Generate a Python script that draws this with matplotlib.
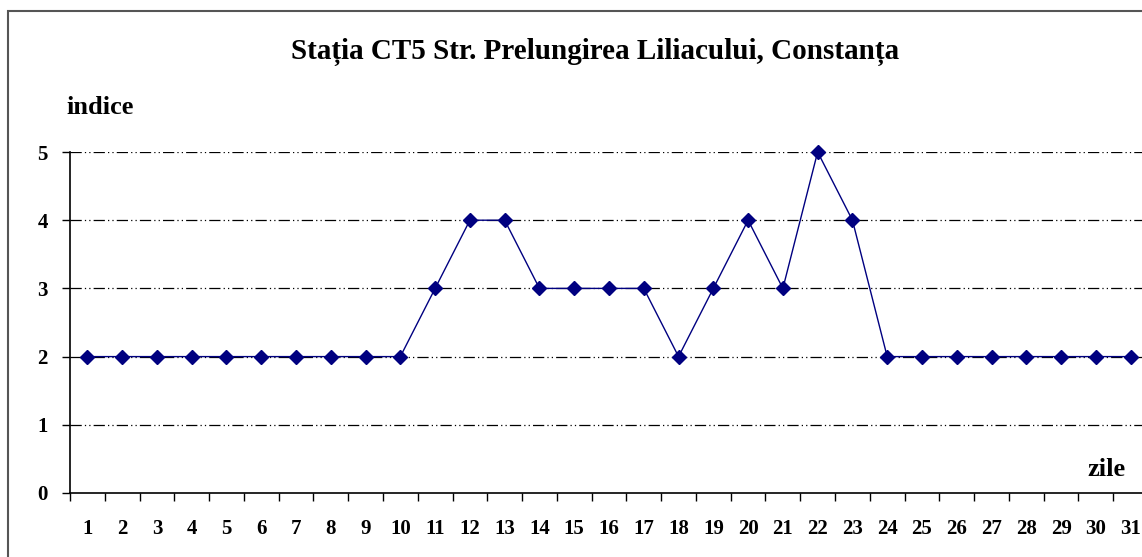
import matplotlib
matplotlib.use("Agg")
import matplotlib.pyplot as plt
from matplotlib.patches import Rectangle

days = list(range(1, 32))
indice = [2, 2, 2, 2, 2, 2, 2, 2, 2, 2, 3, 4, 4, 3, 3, 3, 3, 2, 3, 4, 3, 5, 4, 2, 2, 2, 2, 2, 2, 2, 2]
y_ticks = [0, 1, 2, 3, 4, 5]
title = "Stația CT5 Str. Prelungirea Liliacului, Constanța"

W, H = 1142, 557
fig = plt.figure(figsize=(W / 100, H / 100), dpi=100)
fig.patch.set_facecolor("white")
serif = ["Liberation Serif", "DejaVu Serif"]

# outer border
fig.patches.append(Rectangle((8 / W, -0.1), 1.2, (H - 11) / H + 0.1,
                             transform=fig.transFigure, fill=False,
                             edgecolor="#555555", linewidth=1.5))

ax_left = 70 / W
ax_width = (1148 - 70) / W
ax_bottom = (H - 493) / H
ax_height = (493 - 152) / H
ax = fig.add_axes([ax_left, ax_bottom, ax_width, ax_height])
ax.set_facecolor("none")

ax.plot(days, indice, color="#000080", linewidth=1.0, marker="D",
        markersize=7.5, markerfacecolor="#000080", markeredgecolor="#000080",
        zorder=3, clip_on=False)

ax.set_xlim(0.5, 31.5)
ax.set_ylim(0, 5)
ax.set_yticks(y_ticks)
ax.set_yticklabels([str(v) for v in y_ticks], fontfamily=serif,
                   fontweight="bold", fontsize=15)
ax.set_xticks(days)
ax.set_xticklabels([str(d) for d in days], fontfamily=serif,
                   fontweight="bold", fontsize=15)
ax.set_xticks([d + 0.5 for d in [0] + days], minor=True)
ax.tick_params(axis="x", which="major", length=0, pad=19)
ax.tick_params(axis="x", which="minor", length=6, direction="out", width=1)
ax.tick_params(axis="y", which="major", length=6, direction="out", width=1, pad=10)

for v in y_ticks[1:]:
    ax.axhline(v, color="black", linewidth=0.9,
               dashes=(9, 2.5, 1, 2.5, 1, 2.5), zorder=1)

for s in ["top", "right"]:
    ax.spines[s].set_visible(False)
for s in ["left", "bottom"]:
    ax.spines[s].set_linewidth(1.2)

fig.text(595 / W, 1 - 52 / H, title, fontfamily=serif, fontweight="bold",
         fontsize=21, ha="center", va="center")
fig.text(66 / W, 1 - 108 / H, "indice", fontfamily=serif, fontweight="bold",
         fontsize=19, ha="left", va="center")
fig.text(1107 / W, 1 - 470 / H, "zile", fontfamily=serif, fontweight="bold",
         fontsize=19, ha="center", va="center")

fig.savefig("out.png", dpi=100, facecolor="white")
